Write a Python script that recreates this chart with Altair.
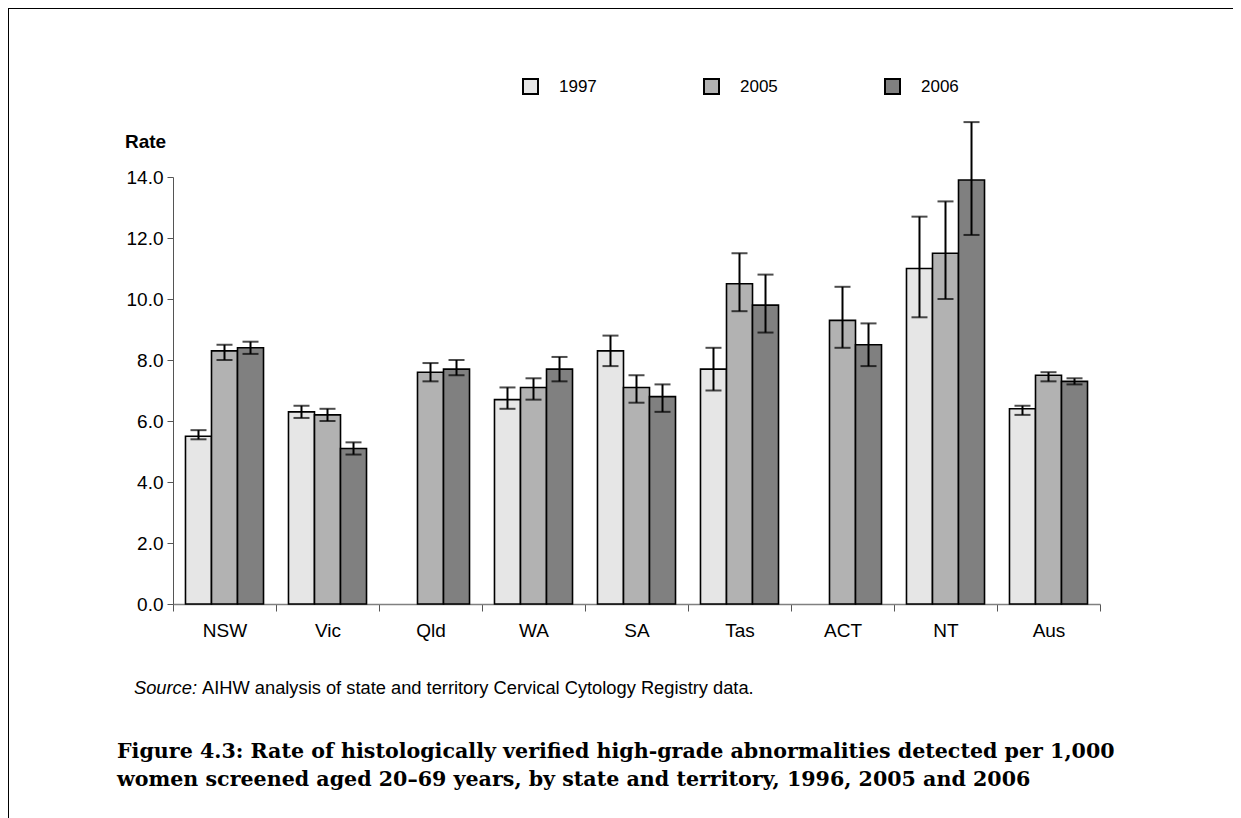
import altair as alt
import pandas as pd

states = ["NSW", "Vic", "Qld", "WA", "SA", "Tas", "ACT", "NT", "Aus"]
years = ["1997", "2005", "2006"]

r1997 = [5.5, 6.3, None, 6.7, 8.3, 7.7, None, 11.0, 6.4]
lo1997 = [5.4, 6.1, None, 6.4, 7.8, 7.0, None, 9.4, 6.2]
hi1997 = [5.7, 6.5, None, 7.1, 8.8, 8.4, None, 12.7, 6.5]

r2005 = [8.3, 6.2, 7.6, 7.1, 7.1, 10.5, 9.3, 11.5, 7.5]
lo2005 = [8.0, 6.0, 7.3, 6.7, 6.6, 9.6, 8.4, 10.0, 7.3]
hi2005 = [8.5, 6.4, 7.9, 7.4, 7.5, 11.5, 10.4, 13.2, 7.6]

r2006 = [8.4, 5.1, 7.7, 7.7, 6.8, 9.8, 8.5, 13.9, 7.3]
lo2006 = [8.2, 4.9, 7.5, 7.3, 6.3, 8.9, 7.8, 12.1, 7.2]
hi2006 = [8.6, 5.3, 8.0, 8.1, 7.2, 10.8, 9.2, 15.8, 7.4]

colors = ["#e6e6e6", "#b2b2b2", "#808080"]
y_ticks = [0, 2, 4, 6, 8, 10, 12, 14]

source_label = "Source:"
source_text = "AIHW analysis of state and territory Cervical Cytology Registry data."
caption_1 = "Figure 4.3: Rate of histologically verified high-grade abnormalities detected per 1,000"
caption_2 = "women screened aged 20\u201369 years, by state and territory, 1996, 2005 and 2006"

rows = []
for yr, r, lo, hi in [("1997", r1997, lo1997, hi1997),
                      ("2005", r2005, lo2005, hi2005),
                      ("2006", r2006, lo2006, hi2006)]:
    for s, v, l, h in zip(states, r, lo, hi):
        if v is not None:
            rows.append({"state": s, "year": yr, "rate": v, "lo": l, "hi": h})
df = pd.DataFrame(rows)
one = pd.DataFrame({"k": [0]})

W, H = 927, 427
PL, PT = 165, 169
FS = 19

x_enc = alt.X(
    "state:N", sort=states,
    scale=alt.Scale(paddingInner=0, paddingOuter=0),
    axis=alt.Axis(title=None, labelAngle=0, labelFont="Liberation Sans",
                  labelFontSize=FS, labelColor="black", tickBand="extent",
                  tickSize=7, tickColor="#555555", domainColor="#808080",
                  domainWidth=1.5, labelPadding=10),
)
xo_enc = alt.XOffset("year:N", scale=alt.Scale(domain=years, paddingOuter=0.48, paddingInner=0))
y_scale = alt.Scale(domain=[0, 14], nice=False)

bars = alt.Chart(df).mark_bar(stroke="black", strokeWidth=1.6).encode(
    x=x_enc,
    xOffset=xo_enc,
    y=alt.Y("rate:Q", scale=y_scale,
            axis=alt.Axis(values=y_ticks, format=".1f", grid=False,
                          labelFont="Liberation Sans", labelFontSize=FS,
                          labelColor="black", tickSize=6, tickColor="#555555",
                          domainColor="#555555", labelPadding=4,
                          title="Rate", titleAngle=0, titleFont="Liberation Sans",
                          titleFontSize=FS, titleFontWeight="bold",
                          titleColor="black", titleAlign="center",
                          titleBaseline="middle", titleX=-28, titleY=-36)),
    fill=alt.Fill("year:N", scale=alt.Scale(domain=years, range=colors),
                  legend=alt.Legend(title=None, orient="none", legendX=349,
                                    legendY=-99, direction="horizontal",
                                    symbolType="square", symbolSize=225,
                                    symbolStrokeColor="black",
                                    symbolStrokeWidth=2, symbolOpacity=1,
                                    labelFont="Liberation Sans",
                                    labelFontSize=17, labelColor="black",
                                    labelOffset=20, columnPadding=103,
                                    padding=0)),
)

err = alt.Chart(df).mark_rule(color="black", strokeWidth=2).encode(
    x=alt.X("state:N", sort=states), xOffset=alt.XOffset("year:N"),
    y=alt.Y("lo:Q", scale=y_scale), y2="hi:Q",
)
cap_lo = alt.Chart(df).mark_tick(color="black", thickness=2, size=16).encode(
    x=alt.X("state:N", sort=states), xOffset=alt.XOffset("year:N"),
    y=alt.Y("lo:Q", scale=y_scale),
)
cap_hi = alt.Chart(df).mark_tick(color="black", thickness=2, size=16).encode(
    x=alt.X("state:N", sort=states), xOffset=alt.XOffset("year:N"),
    y=alt.Y("hi:Q", scale=y_scale),
)

frame_top = alt.Chart(one).mark_rule(color="black", strokeWidth=2).encode(
    x=alt.value(-PL), x2=alt.value(1241 - 8 - PL), y=alt.value(-PT))
frame_left = alt.Chart(one).mark_rule(color="black", strokeWidth=2).encode(
    x=alt.value(-PL), y=alt.value(-PT), y2=alt.value(820))

SFS = 18.3
src1 = alt.Chart(one).mark_text(text=source_label, font="Liberation Sans", fontSize=SFS,
                                fontStyle="italic", align="left", baseline="alphabetic",
                                color="black").encode(x=alt.value(134 - 8 - PL), y=alt.value(694 - 8 - PT))
src2 = alt.Chart(one).mark_text(text=source_text, font="Liberation Sans", fontSize=SFS,
                                align="left", baseline="alphabetic",
                                color="black").encode(x=alt.value(202 - 8 - PL), y=alt.value(694 - 8 - PT))
CFS = 20.6
cap1 = alt.Chart(one).mark_text(text=caption_1, font="DejaVu Serif", fontSize=CFS,
                                fontWeight="bold", align="left", baseline="alphabetic",
                                color="black").encode(x=alt.value(117 - 8 - PL), y=alt.value(758 - 8 - PT))
cap2 = alt.Chart(one).mark_text(text=caption_2, font="DejaVu Serif", fontSize=CFS,
                                fontWeight="bold", align="left", baseline="alphabetic",
                                color="black").encode(x=alt.value(117 - 8 - PL), y=alt.value(786 - 8 - PT))

chart = alt.layer(bars, err, cap_lo, cap_hi, frame_top, frame_left, src1, src2, cap1, cap2).properties(
    width=W, height=H,
    background="white",
    autosize=alt.AutoSizeParams(type="none"),
    padding={"left": PL, "top": PT, "right": 1241 - 16 - PL - W, "bottom": 818 - 8 - PT - H},
).configure_view(stroke=None)

chart.save("out.html", embed_options={"renderer": "svg", "actions": False})
